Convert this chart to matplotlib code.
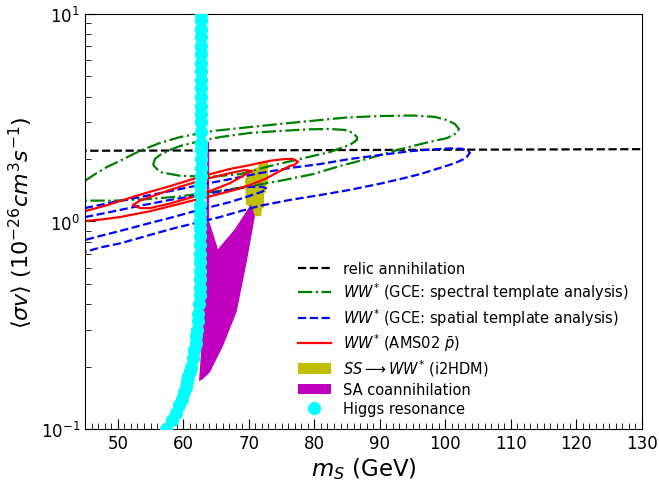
## plot.py: annihilation cross section vs scalar mass
# -----------------------------------------------------------------------------
import matplotlib
matplotlib.use('Agg')
from matplotlib import (pyplot as plt, patches as pat, lines as mln)
from matplotlib.ticker import MultipleLocator

# -----------------------------------------------------------------------------
## --- section_a: data (m_S in GeV, sigma v in 1e-26 cm^3/s) ---
relic_mass = [44.0, 130.0]
relic_sv = [2.19, 2.23]

# GCE spectral template analysis (green dash-dot), outer and inner contour
spec_out_mass = [45.0, 46.53, 48.36, 50.34, 53.39, 56.45, 59.50, 64.53, 70.18, 74.76,
                 80.86, 84.98, 90.02, 95.05, 98.41, 100.24, 101.46, 102.07,
                 101.77, 100.24, 97.65, 95.05, 91.54, 88.03, 83.91, 79.79, 74.76,
                 69.72, 64.53, 59.50, 54.46, 49.27, 45.0]
spec_out_sv = [1.57, 1.69, 1.83, 1.96, 2.19, 2.39, 2.55, 2.73, 2.85, 2.95,
               3.08, 3.17, 3.22, 3.24, 3.19, 3.08, 2.95, 2.79,
               2.67, 2.52, 2.42, 2.31, 2.16, 2.00, 1.85, 1.69, 1.57,
               1.47, 1.39, 1.32, 1.28, 1.26, 1.26]
spec_in_mass = [55.38, 55.68, 56.45, 57.97, 59.50, 62.55, 65.60, 70.18, 74.76, 79.34,
                82.39, 84.68, 85.90, 86.51, 86.51, 85.44, 82.39, 77.81, 73.23,
                68.65, 64.08, 59.50, 56.45, 55.38]
spec_in_sv = [1.87, 2.00, 2.09, 2.21, 2.31, 2.44, 2.55, 2.67, 2.73, 2.78,
              2.79, 2.76, 2.67, 2.55, 2.47, 2.34, 2.16, 2.00, 1.85,
              1.69, 1.64, 1.66, 1.73, 1.87]

# GCE spatial template analysis (blue dashed), outer and inner contour
spat_out_mass = [45.0, 48.82, 53.39, 57.97, 62.55, 67.13, 71.71, 76.28, 80.86, 85.44,
                 90.02, 94.60, 97.65, 100.70, 102.53, 103.45, 103.75,
                 103.14, 101.46, 99.17, 96.12, 93.07, 90.02, 85.44, 80.86, 76.28,
                 71.71, 68.65, 65.60, 62.55, 58.73, 54.92, 50.34, 47.29, 45.0]
spat_out_sv = [1.16, 1.23, 1.31, 1.40, 1.50, 1.60, 1.71, 1.81, 1.89, 2.00,
               2.09, 2.18, 2.22, 2.25, 2.24, 2.19, 2.14,
               2.02, 1.91, 1.81, 1.69, 1.60, 1.52, 1.42, 1.34, 1.27,
               1.19, 1.12, 1.05, 0.995, 0.93, 0.861, 0.784, 0.749, 0.713]
spat_in_mass = [45.0, 48.82, 53.39, 57.97, 62.55, 67.13, 70.18, 72.01, 72.77,
                72.01, 70.18, 67.13, 62.55, 57.97, 54.92, 50.34, 47.29, 45.0]
spat_in_sv = [1.05, 1.11, 1.19, 1.27, 1.34, 1.42, 1.47, 1.47, 1.44,
              1.39, 1.33, 1.24, 1.14, 1.04, 0.983, 0.90, 0.851, 0.814]

# AMS02 antiprotons (red solid), outer and inner contour
ams_out_mass = [45.0, 48.82, 51.87, 54.92, 57.97, 61.02, 64.08, 67.13, 70.18, 73.23,
                75.52, 76.74, 77.50, 77.05, 76.28, 74.76, 72.47, 70.18, 67.89,
                64.84, 61.79, 58.73, 54.92, 50.34, 47.29, 45.0]
ams_out_sv = [1.12, 1.21, 1.30, 1.39, 1.48, 1.585, 1.69, 1.79, 1.87, 1.96,
              2.00, 2.00, 1.94, 1.88, 1.85, 1.75, 1.60, 1.50, 1.42,
              1.34, 1.27, 1.20, 1.12, 1.05, 1.02, 1.005]
ams_in_mass = [70.48, 69.42, 67.13, 64.08, 61.02, 57.97, 54.92, 53.39, 52.32,
               53.39, 54.92, 57.97, 61.02, 64.08, 67.13, 69.42, 70.48]
ams_in_sv = [1.75, 1.77, 1.71, 1.62, 1.52, 1.42, 1.31, 1.26, 1.20,
             1.16, 1.16, 1.22, 1.30, 1.40, 1.53, 1.68, 1.75]

# SS -> WW* (i2HDM) region
i2hdm_mass = [71.7, 72.93, 72.93, 72.62, 72.62, 72.32, 72.32, 72.01, 71.86,
              70.94, 70.48, 69.57, 69.42, 70.48, 71.40]
i2hdm_sv = [1.94, 1.94, 1.55, 1.52, 1.39, 1.36, 1.17, 1.15, 1.06,
            1.06, 1.15, 1.21, 1.60, 1.75, 1.83]

# SA coannihilation region
coann_mass = [63.70, 63.95, 63.95, 65.30, 67.89, 70.33, 70.94, 69.68, 68.15,
              66.06, 64.08, 63.01, 62.40, 62.85, 63.16, 63.50]
coann_sv = [2.42, 2.42, 1.00, 0.736, 0.92, 1.21, 1.06, 0.638, 0.367,
            0.251, 0.188, 0.174, 0.170, 0.27, 0.53, 1.00]

# Higgs resonance points
higgs_mass = [57.4, 58.3, 58.9, 59.3, 59.8, 60.1, 60.4, 60.6, 60.7, 61.0, 61.2,
              61.5, 61.7, 61.9, 62.0, 62.1, 62.2, 62.3, 62.4, 62.5, 62.5, 62.55,
              62.55, 62.55, 62.55, 62.55, 62.55, 62.55, 62.55, 62.6, 62.6, 62.6, 62.6,
              62.65, 62.65, 62.65, 62.7, 62.7, 62.7, 62.75, 62.75, 62.75, 62.75, 62.75,
              62.75, 62.75, 62.75, 62.75, 62.75, 62.75, 62.75, 62.75, 62.75]
higgs_sv = [0.10, 0.11, 0.12, 0.13, 0.14, 0.15, 0.16, 0.17, 0.18, 0.19, 0.20,
            0.22, 0.24, 0.26, 0.28, 0.30, 0.33, 0.36, 0.40, 0.44, 0.48, 0.53,
            0.58, 0.64, 0.70, 0.77, 0.85, 0.93, 1.0, 1.1, 1.2, 1.35, 1.5,
            1.65, 1.8, 2.0, 2.2, 2.4, 2.7, 3.0, 3.3, 3.6, 4.0, 4.4, 4.8,
            5.3, 5.8, 6.4, 7.0, 7.7, 8.5, 9.3, 10.0]

# -----------------------------------------------------------------------------
## --- section_b: drawing ---
fig = plt.figure(figsize=(6.59, 4.81), dpi=100)
ax = fig.add_axes([0.129, 0.106, 0.845, 0.863])

ax.add_patch(pat.Polygon(list(zip(i2hdm_mass, i2hdm_sv)), closed=True,
    facecolor='y', edgecolor='none', zorder=1))
ax.add_patch(pat.Polygon(list(zip(coann_mass, coann_sv)), closed=True,
    facecolor='m', edgecolor='none', zorder=1))

lw = 1.6
ax.plot(relic_mass, relic_sv, linestyle='--', color='k', linewidth=lw, zorder=2)
for mm, ss in ((spec_out_mass, spec_out_sv), (spec_in_mass, spec_in_sv)):
    ax.plot(mm, ss, linestyle='-.', color='g', linewidth=lw, zorder=2)
for mm, ss in ((spat_out_mass, spat_out_sv), (spat_in_mass, spat_in_sv)):
    ax.plot(mm, ss, linestyle='--', color='b', linewidth=lw, zorder=2)
for mm, ss in ((ams_out_mass, ams_out_sv), (ams_in_mass, ams_in_sv)):
    ax.plot(mm, ss, linestyle='-', color='r', linewidth=lw, zorder=2)

ax.plot(higgs_mass, higgs_sv, linestyle='none', marker='o', markersize=8.5,
    color='cyan', markeredgecolor='cyan', zorder=3)

ax.set_xlim(45, 130)
ax.set_ylim(0.1, 10)
ax.set_yscale('log')
ax.xaxis.set_major_locator(MultipleLocator(10))
ax.xaxis.set_minor_locator(MultipleLocator(1))
ax.tick_params(which='both', direction='in', top=False, right=False, labelsize=12)
ax.tick_params(which='major', length=7)
ax.tick_params(which='minor', length=4)
ax.set_xlabel(r'$m_S$ (GeV)', fontsize=16.5, labelpad=2)
ax.set_ylabel(r'$\langle\sigma v\rangle$ $(10^{-26} cm^3 s^{-1})$', fontsize=16)

handles = [
    mln.Line2D([], [], linestyle='--', color='k', linewidth=lw),
    mln.Line2D([], [], linestyle='-.', color='g', linewidth=lw),
    mln.Line2D([], [], linestyle='--', color='b', linewidth=lw),
    mln.Line2D([], [], linestyle='-', color='r', linewidth=lw),
    pat.Patch(facecolor='y', edgecolor='none'),
    pat.Patch(facecolor='m', edgecolor='none'),
    mln.Line2D([], [], linestyle='none', marker='o', markersize=8.5, color='cyan'),
]
labels = [
    'relic annihilation',
    r'$WW^{*}$ (GCE: spectral template analysis)',
    r'$WW^{*}$ (GCE: spatial template analysis)',
    r'$WW^{*}$ (AMS02 $\bar{p}$)',
    r'$SS\longrightarrow WW^{*}$ (i2HDM)',
    'SA coannihilation',
    'Higgs resonance',
]
ax.legend(handles, labels, loc='lower right', frameon=False, fontsize=10.5,
    labelspacing=0.27, handlelength=2.3, handletextpad=0.8,
    bbox_to_anchor=(1.0, 0.0))

fig.savefig('out.png', dpi=100)
